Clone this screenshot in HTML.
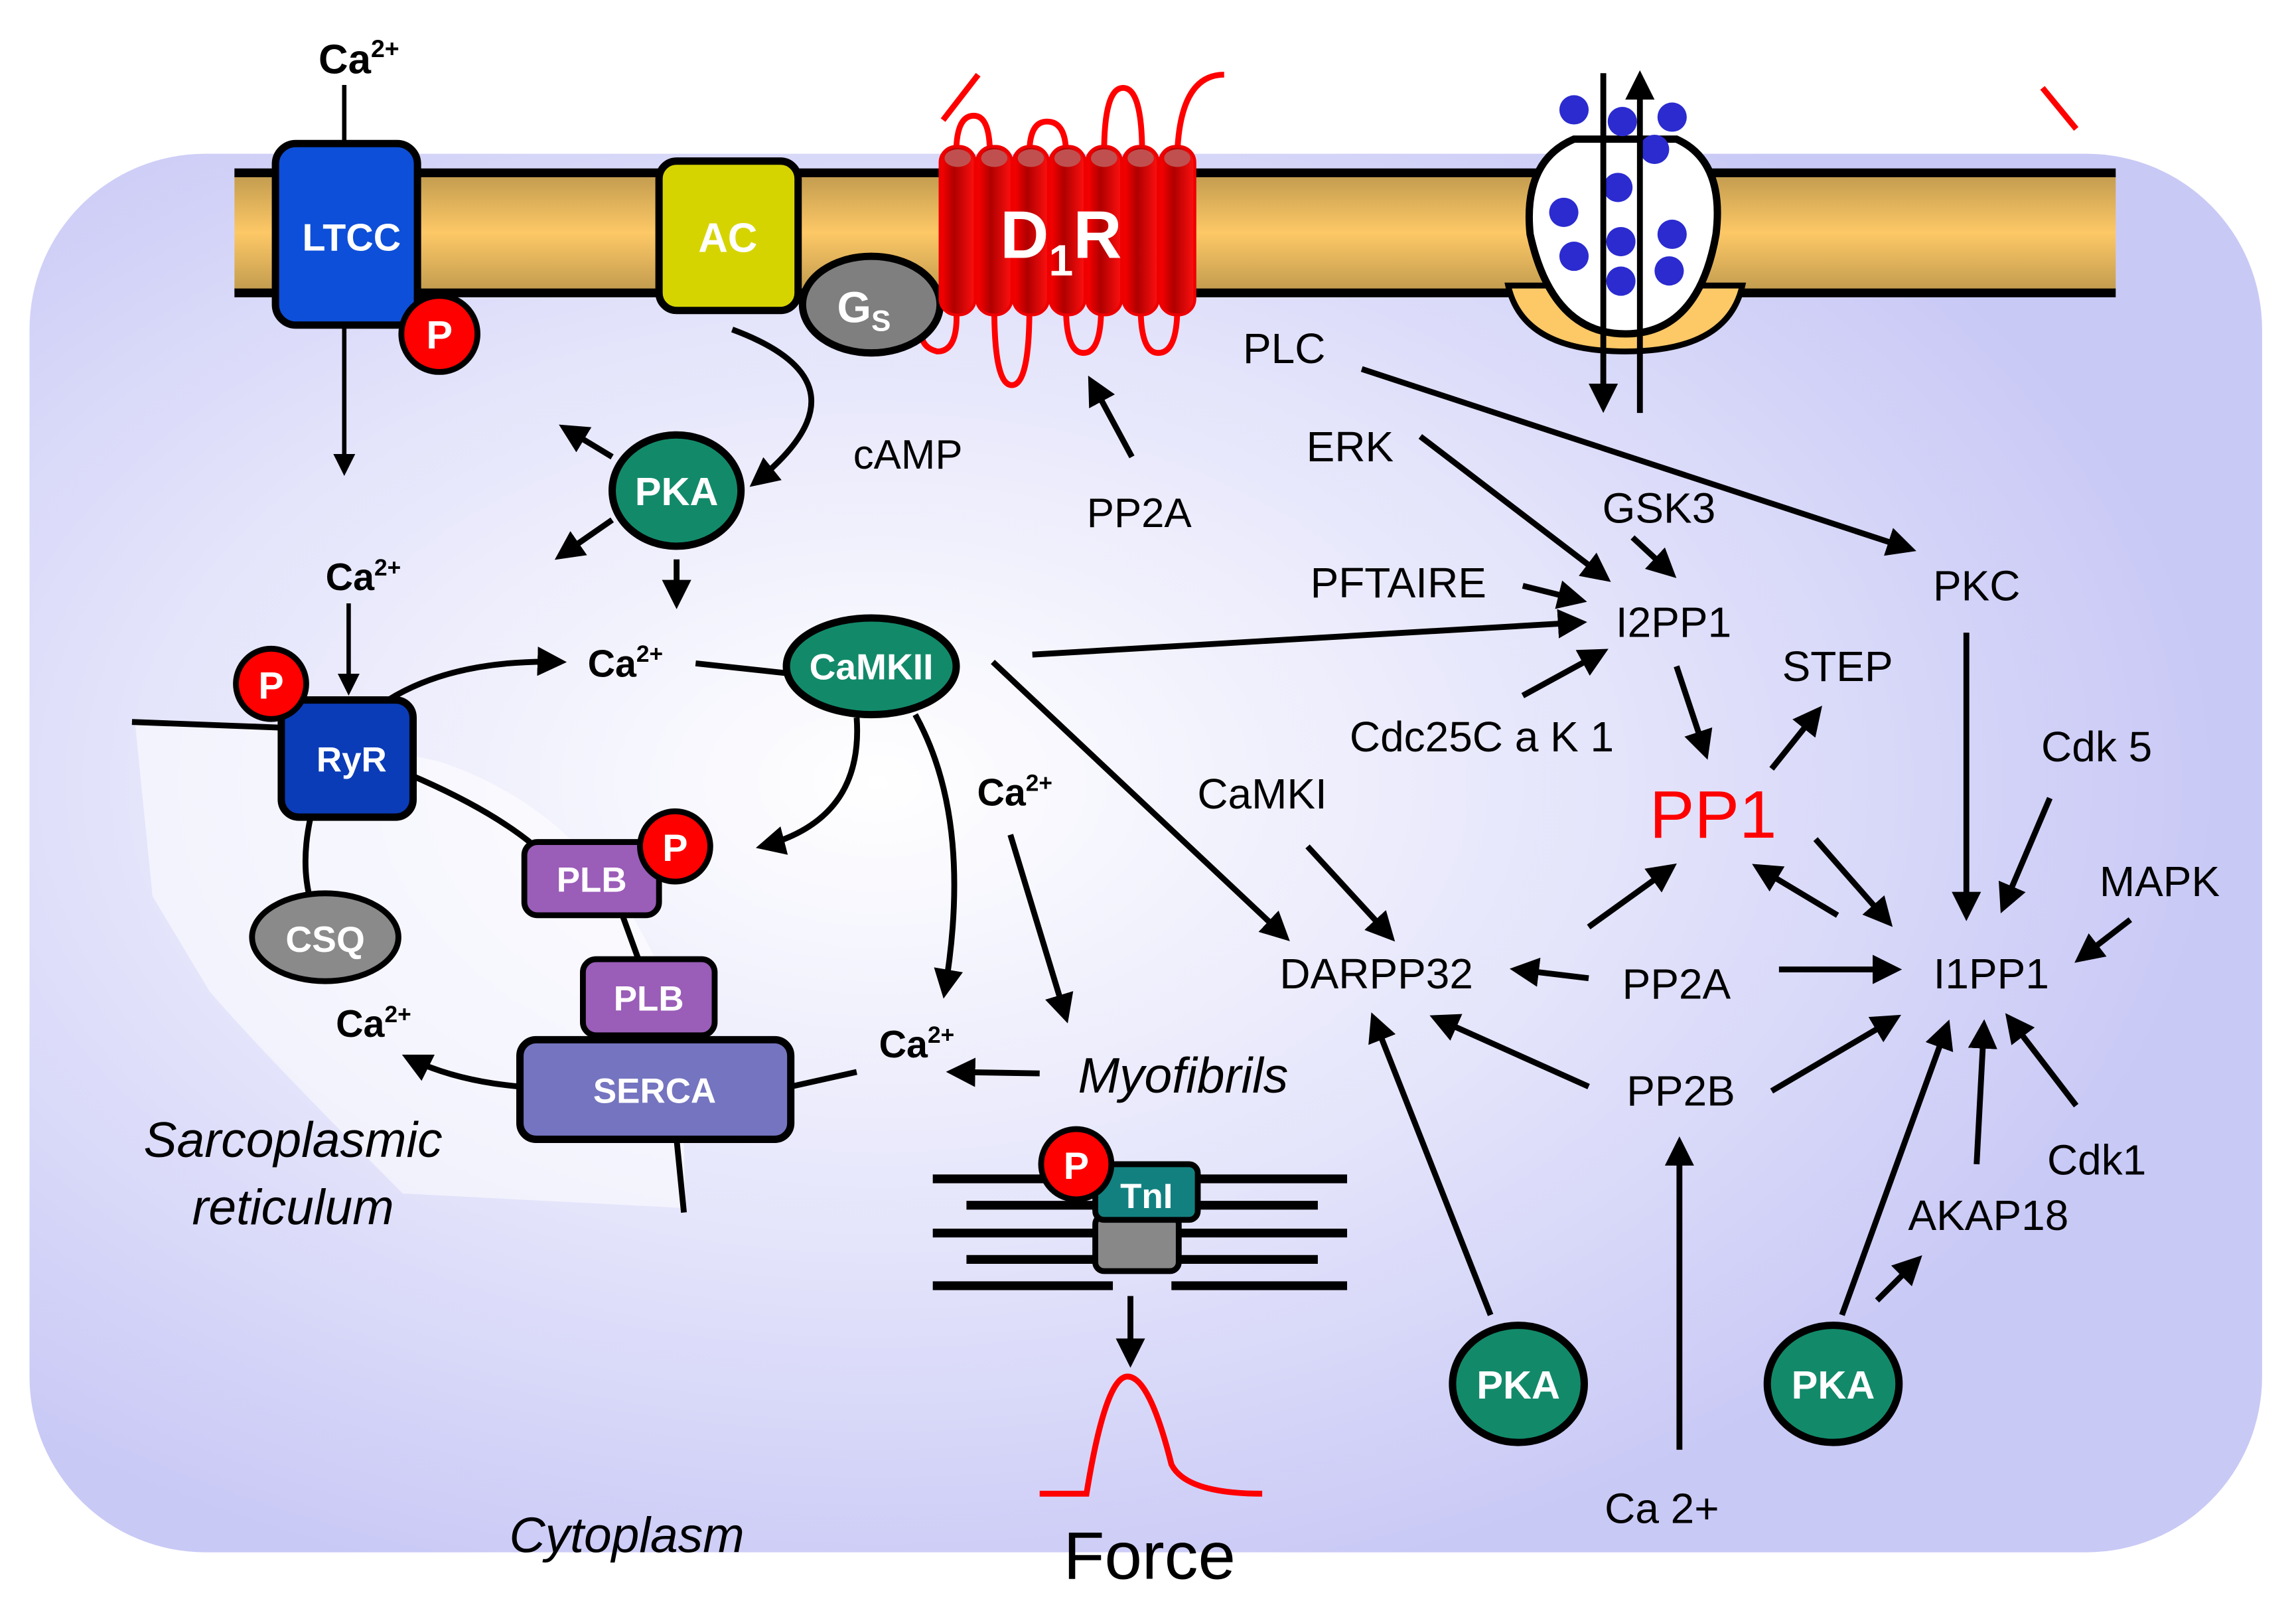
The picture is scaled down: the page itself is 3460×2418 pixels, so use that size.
<!DOCTYPE html>
<html><head><meta charset="utf-8"><style>
html,body{margin:0;padding:0;background:#fff}
svg{display:block}
text{font-family:"Liberation Sans",sans-serif}
</style></head><body>
<svg width="3460" height="2418" viewBox="0 0 1568 1096" xmlns="http://www.w3.org/2000/svg">
<defs>
<radialGradient id="bg" cx="0.38" cy="0.45" r="0.6">
<stop offset="0" stop-color="#ffffff"/><stop offset="0.55" stop-color="#e4e4fb"/><stop offset="1" stop-color="#c9c9f6"/>
</radialGradient>
<linearGradient id="mem" x1="0" y1="0" x2="0" y2="1">
<stop offset="0" stop-color="#c09a4e"/><stop offset="0.5" stop-color="#fdc866"/><stop offset="1" stop-color="#c09a4e"/>
</linearGradient>
<linearGradient id="cyl" x1="0" y1="0" x2="1" y2="0">
<stop offset="0" stop-color="#ff0000"/><stop offset="0.4" stop-color="#b00000"/><stop offset="1" stop-color="#ff1010"/>
</linearGradient>
<marker id="a" viewBox="0 0 10 10" refX="8" refY="5" markerWidth="5" markerHeight="5" orient="auto-start-reverse">
<path d="M0,0 L10,5 L0,10 z" fill="#000"/></marker>
</defs>
<rect x="20" y="105" width="1525" height="955" rx="120" fill="url(#bg)"/>
<path d="M92,493 L195,497 L300,520 Q420,560 465,700 L468,825 L275,815 Q180,720 143,677 L104,612 Z" fill="#ffffff" opacity="0.55"/>
<rect x="160" y="118" width="1285" height="82" fill="url(#mem)"/>
<line x1="160" y1="118" x2="1445" y2="118" stroke="#000" stroke-width="6"/>
<line x1="160" y1="200" x2="1445" y2="200" stroke="#000" stroke-width="6"/>
<path d="M1030,195 Q1040,240 1110,240 Q1180,240 1190,195 Z" fill="#fdc866" stroke="#000" stroke-width="4"/>
<path d="M1075,95 Q1040,110 1045,160 Q1060,228 1110,228 Q1160,228 1172,160 Q1178,110 1145,95 Z" fill="#fff" stroke="#000" stroke-width="5"/>
<g fill="#2b2bd0">
<circle cx="1075" cy="75" r="10"/><circle cx="1108" cy="83" r="10"/><circle cx="1142" cy="80" r="10"/><circle cx="1130" cy="102" r="10"/>
<circle cx="1105" cy="128" r="10"/><circle cx="1068" cy="145" r="10"/><circle cx="1142" cy="160" r="10"/><circle cx="1107" cy="165" r="10"/>
<circle cx="1075" cy="175" r="10"/><circle cx="1140" cy="185" r="10"/><circle cx="1107" cy="192" r="10"/>
</g>
<line x1="1095" y1="50" x2="1095" y2="278" stroke="#000" stroke-width="4" marker-end="url(#a)"/>
<line x1="1120" y1="282" x2="1120" y2="52" stroke="#000" stroke-width="4" marker-end="url(#a)"/>
<line x1="1395" y1="60" x2="1418" y2="88" stroke="#f00" stroke-width="4"/>
<text x="245" y="50" font-size="28" font-weight="bold" text-anchor="middle">Ca<tspan font-size="17" dy="-11">2+</tspan></text>
<line x1="235" y1="58" x2="235" y2="100" stroke="#000" stroke-width="3"/>
<line x1="235" y1="222" x2="235" y2="322" stroke="#000" stroke-width="3" marker-end="url(#a)"/>
<rect x="188" y="98" width="97" height="124" rx="14" fill="#0d4fd8" stroke="#000" stroke-width="5"/>
<text x="240" y="171" font-size="26" font-weight="bold" fill="#fff" text-anchor="middle">LTCC</text>
<circle cx="300" cy="228" r="26" fill="#f00" stroke="#000" stroke-width="4"/>
<text x="300" y="238" font-size="27" font-weight="bold" fill="#fff" text-anchor="middle">P</text>
<rect x="450" y="110" width="95" height="102" rx="12" fill="#d6d400" stroke="#000" stroke-width="5"/>
<text x="497" y="172" font-size="28" font-weight="bold" fill="#fff" text-anchor="middle">AC</text>
<!-- D1R loops -->
<line x1="644" y1="82" x2="668" y2="51" stroke="#f00" stroke-width="4"/>
<g fill="none" stroke="#f00" stroke-width="4">
<path d="M653,105 Q653,79 665,79 Q676,79 676,105"/>
<path d="M703,105 Q703,83 715,83 Q728,83 728,105"/>
<path d="M754,105 Q754,60 767,60 Q780,60 780,105"/>
<path d="M804,105 Q806,51 836,51"/>
<path d="M653,210 Q655,240 640,240 Q632,238 630,232"/>
<path d="M679,210 Q679,263 691,263 Q703,263 703,210"/>
<path d="M728,210 Q728,241 740,241 Q752,241 752,210"/>
<path d="M779,210 Q779,241 791,241 Q804,241 804,210"/>
</g>
<ellipse cx="595" cy="208" rx="47" ry="33" fill="#7f7f7f" stroke="#000" stroke-width="5"/>
<text x="590" y="220" font-size="30" font-weight="bold" fill="#fff" text-anchor="middle">G<tspan font-size="20" dy="6">S</tspan></text>
<g fill="url(#cyl)" stroke="#e00" stroke-width="2">
<rect x="642" y="100" width="24" height="115" rx="11"/><rect x="667" y="100" width="24" height="115" rx="11"/><rect x="692" y="100" width="24" height="115" rx="11"/><rect x="717" y="100" width="24" height="115" rx="11"/><rect x="742" y="100" width="24" height="115" rx="11"/><rect x="767" y="100" width="24" height="115" rx="11"/><rect x="792" y="100" width="24" height="115" rx="11"/>
</g>
<g fill="#c05050"><ellipse cx="654" cy="108" rx="9" ry="6"/><ellipse cx="679" cy="108" rx="9" ry="6"/><ellipse cx="704" cy="108" rx="9" ry="6"/><ellipse cx="729" cy="108" rx="9" ry="6"/><ellipse cx="754" cy="108" rx="9" ry="6"/><ellipse cx="779" cy="108" rx="9" ry="6"/><ellipse cx="804" cy="108" rx="9" ry="6"/></g>
<text x="683" y="176" font-size="46" font-weight="bold" fill="#fff">D<tspan font-size="30" dy="12">1</tspan><tspan dy="-12">R</tspan></text>
<path d="M500,225 Q600,262 515,330" fill="none" stroke="#000" stroke-width="4" marker-end="url(#a)"/>
<text x="620" y="320" font-size="28" text-anchor="middle">cAMP</text>
<line x1="418" y1="312" x2="385" y2="292" stroke="#000" stroke-width="4" marker-end="url(#a)"/>
<line x1="418" y1="355" x2="382" y2="380" stroke="#000" stroke-width="4" marker-end="url(#a)"/>
<line x1="462" y1="382" x2="462" y2="412" stroke="#000" stroke-width="4" marker-end="url(#a)"/>
<ellipse cx="462" cy="335" rx="44" ry="38" fill="#128a6a" stroke="#000" stroke-width="5"/>
<text x="462" y="345" font-size="27" font-weight="bold" fill="#fff" text-anchor="middle">PKA</text>
<line x1="773" y1="312" x2="745" y2="260" stroke="#000" stroke-width="4" marker-end="url(#a)"/>
<text x="778" y="360" font-size="28" text-anchor="middle">PP2A</text>
<line x1="90" y1="493" x2="195" y2="497" stroke="#000" stroke-width="4"/>
<path d="M282,530 Q340,555 370,582" fill="none" stroke="#000" stroke-width="4"/>
<path d="M212,558 Q205,590 212,615" fill="none" stroke="#000" stroke-width="4"/>
<line x1="425" y1="625" x2="437" y2="658" stroke="#000" stroke-width="4"/>
<line x1="462" y1="778" x2="467" y2="828" stroke="#000" stroke-width="4"/>
<text x="248" y="403" font-size="26" font-weight="bold" text-anchor="middle">Ca<tspan font-size="16" dy="-10">2+</tspan></text>
<line x1="238" y1="412" x2="238" y2="472" stroke="#000" stroke-width="3" marker-end="url(#a)"/>
<path d="M265,478 Q310,450 383,452" fill="none" stroke="#000" stroke-width="4" marker-end="url(#a)"/>
<rect x="192" y="478" width="90" height="80" rx="12" fill="#0a3cb8" stroke="#000" stroke-width="5"/>
<text x="240" y="527" font-size="24" font-weight="bold" fill="#fff" text-anchor="middle">RyR</text>
<circle cx="185" cy="467" r="24" fill="#f00" stroke="#000" stroke-width="4"/>
<text x="185" y="477" font-size="26" font-weight="bold" fill="#fff" text-anchor="middle">P</text>
<ellipse cx="222" cy="640" rx="50" ry="30" fill="#8a8a8a" stroke="#000" stroke-width="4"/>
<text x="222" y="650" font-size="25" font-weight="bold" fill="#fff" text-anchor="middle">CSQ</text>
<rect x="358" y="575" width="92" height="50" rx="9" fill="#9a5db8" stroke="#000" stroke-width="4"/>
<text x="404" y="609" font-size="24" font-weight="bold" fill="#fff" text-anchor="middle">PLB</text>
<circle cx="461" cy="578" r="24" fill="#f00" stroke="#000" stroke-width="4"/>
<text x="461" y="588" font-size="26" font-weight="bold" fill="#fff" text-anchor="middle">P</text>
<rect x="398" y="655" width="90" height="52" rx="9" fill="#9a5db8" stroke="#000" stroke-width="4"/>
<text x="443" y="690" font-size="24" font-weight="bold" fill="#fff" text-anchor="middle">PLB</text>
<path d="M355,742 Q310,738 278,722" fill="none" stroke="#000" stroke-width="4" marker-end="url(#a)"/>
<line x1="540" y1="742" x2="585" y2="732" stroke="#000" stroke-width="4"/>
<rect x="355" y="710" width="185" height="68" rx="11" fill="#7474c0" stroke="#000" stroke-width="5"/>
<text x="447" y="753" font-size="24" font-weight="bold" fill="#fff" text-anchor="middle">SERCA</text>
<text x="255" y="708" font-size="26" font-weight="bold" text-anchor="middle">Ca<tspan font-size="16" dy="-10">2+</tspan></text>
<text x="200" y="790" font-size="34" font-style="italic" text-anchor="middle">Sarcoplasmic</text>
<text x="200" y="836" font-size="34" font-style="italic" text-anchor="middle">reticulum</text>
<text x="427" y="462" font-size="26" font-weight="bold" text-anchor="middle">Ca<tspan font-size="16" dy="-10">2+</tspan></text>
<line x1="475" y1="453" x2="540" y2="460" stroke="#000" stroke-width="4"/>
<path d="M585,490 Q590,560 520,578" fill="none" stroke="#000" stroke-width="4" marker-end="url(#a)"/>
<path d="M625,488 Q665,560 645,678" fill="none" stroke="#000" stroke-width="4" marker-end="url(#a)"/>
<line x1="678" y1="452" x2="878" y2="640" stroke="#000" stroke-width="4" marker-end="url(#a)"/>
<line x1="705" y1="447" x2="1080" y2="425" stroke="#000" stroke-width="4" marker-end="url(#a)"/>
<ellipse cx="595" cy="455" rx="58" ry="33" fill="#128a6a" stroke="#000" stroke-width="5"/>
<text x="595" y="464" font-size="25" font-weight="bold" fill="#fff" text-anchor="middle">CaMKII</text>
<text x="693" y="550" font-size="26" font-weight="bold" text-anchor="middle">Ca<tspan font-size="16" dy="-10">2+</tspan></text>
<line x1="690" y1="570" x2="728" y2="695" stroke="#000" stroke-width="4" marker-end="url(#a)"/>
<text x="626" y="722" font-size="26" font-weight="bold" text-anchor="middle">Ca<tspan font-size="16" dy="-10">2+</tspan></text>
<line x1="710" y1="733" x2="650" y2="732" stroke="#000" stroke-width="4" marker-end="url(#a)"/>
<text x="808" y="746" font-size="34" font-style="italic" text-anchor="middle">Myofibrils</text>
<g stroke="#000" stroke-width="6">
<line x1="637" y1="805" x2="760" y2="805"/><line x1="660" y1="823" x2="760" y2="823"/><line x1="637" y1="842" x2="760" y2="842"/><line x1="660" y1="860" x2="760" y2="860"/><line x1="637" y1="878" x2="760" y2="878"/>
<line x1="800" y1="805" x2="920" y2="805"/><line x1="800" y1="823" x2="900" y2="823"/><line x1="800" y1="842" x2="920" y2="842"/><line x1="800" y1="860" x2="900" y2="860"/><line x1="800" y1="878" x2="920" y2="878"/>
</g>
<rect x="748" y="830" width="57" height="38" rx="6" fill="#888" stroke="#000" stroke-width="4"/>
<rect x="748" y="795" width="70" height="38" rx="6" fill="#138080" stroke="#000" stroke-width="4"/>
<text x="783" y="825" font-size="24" font-weight="bold" fill="#fff" text-anchor="middle">TnI</text>
<circle cx="735" cy="795" r="24" fill="#f00" stroke="#000" stroke-width="4"/>
<text x="735" y="805" font-size="26" font-weight="bold" fill="#fff" text-anchor="middle">P</text>
<line x1="772" y1="885" x2="772" y2="930" stroke="#000" stroke-width="4" marker-end="url(#a)"/>
<path d="M710,1020 L742,1020 Q755,940 770,940 Q785,940 800,1000 Q810,1020 862,1020" fill="none" stroke="#f00" stroke-width="4"/>
<text x="785" y="1078" font-size="46" text-anchor="middle">Force</text>
<text x="428" y="1060" font-size="34" font-style="italic" text-anchor="middle">Cytoplasm</text>
<g font-size="29" text-anchor="middle">
<text x="877" y="248">PLC</text><text x="922" y="315">ERK</text><text x="1133" y="357">GSK3</text><text x="955" y="408">PFTAIRE</text>
<text x="1143" y="435">I2PP1</text><text x="1012" y="513">Cdc25C a K 1</text><text x="1255" y="465">STEP</text>
<text x="1350" y="410">PKC</text><text x="1432" y="520">Cdk 5</text><text x="1475" y="612">MAPK</text><text x="1360" y="675">I1PP1</text>
<text x="862" y="552">CaMKI</text><text x="940" y="675">DARPP32</text><text x="1145" y="682">PP2A</text><text x="1148" y="755">PP2B</text>
<text x="1135" y="1040">Ca 2+</text><text x="1358" y="840">AKAP18</text><text x="1432" y="802">Cdk1</text>
</g>
<text x="1170" y="572" font-size="46" fill="#f00" text-anchor="middle">PP1</text>
<g stroke="#000" stroke-width="4" marker-end="url(#a)">
<line x1="930" y1="252" x2="1305" y2="375"/>
<line x1="970" y1="298" x2="1097" y2="395"/>
<line x1="1115" y1="367" x2="1142" y2="392"/>
<line x1="1040" y1="400" x2="1080" y2="410"/>
<line x1="1040" y1="475" x2="1095" y2="445"/>
<line x1="1145" y1="455" x2="1165" y2="515"/>
<line x1="1210" y1="525" x2="1242" y2="485"/>
<line x1="1343" y1="432" x2="1343" y2="625"/>
<line x1="1400" y1="545" x2="1368" y2="620"/>
<line x1="1455" y1="628" x2="1420" y2="655"/>
<line x1="893" y1="578" x2="950" y2="640"/>
<line x1="1085" y1="668" x2="1035" y2="662"/>
<line x1="1085" y1="633" x2="1142" y2="592"/>
<line x1="1215" y1="662" x2="1295" y2="662"/>
<line x1="1240" y1="573" x2="1290" y2="630"/>
<line x1="1255" y1="625" x2="1200" y2="592"/>
<line x1="1085" y1="742" x2="980" y2="695"/>
<line x1="1210" y1="745" x2="1295" y2="695"/>
<line x1="1147" y1="990" x2="1147" y2="780"/>
<line x1="1018" y1="898" x2="938" y2="695"/>
<line x1="1258" y1="898" x2="1330" y2="700"/>
<line x1="1282" y1="888" x2="1310" y2="860"/>
<line x1="1350" y1="795" x2="1355" y2="700"/>
<line x1="1418" y1="755" x2="1372" y2="695"/>
</g>
<ellipse cx="1037" cy="945" rx="45" ry="40" fill="#128a6a" stroke="#000" stroke-width="5"/>
<text x="1037" y="955" font-size="27" font-weight="bold" fill="#fff" text-anchor="middle">PKA</text>
<ellipse cx="1252" cy="945" rx="45" ry="40" fill="#128a6a" stroke="#000" stroke-width="5"/>
<text x="1252" y="955" font-size="27" font-weight="bold" fill="#fff" text-anchor="middle">PKA</text>
</svg>
</body></html>
